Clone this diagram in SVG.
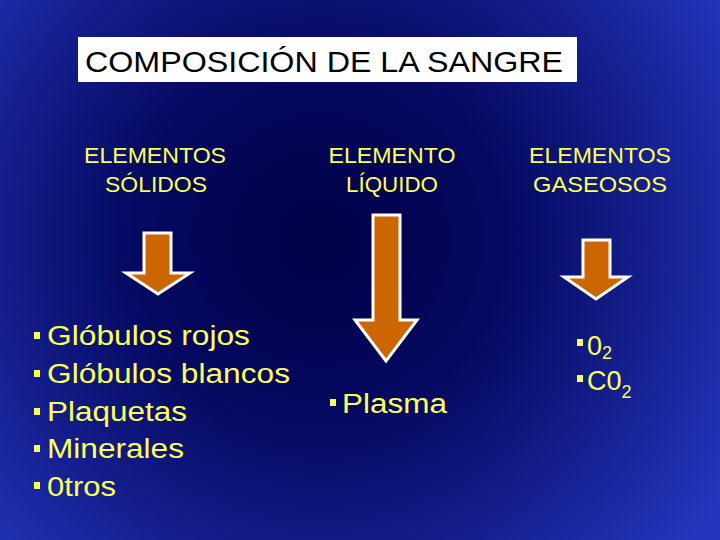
<svg xmlns="http://www.w3.org/2000/svg" width="720" height="540" viewBox="0 0 720 540">
<defs>
<radialGradient id="bg" gradientUnits="userSpaceOnUse" cx="320" cy="240" r="480">
<stop offset="0" stop-color="#000046"/>
<stop offset="0.4" stop-color="#050a62"/>
<stop offset="1" stop-color="#2536bd"/>
</radialGradient>
<style>
.hd{font-family:"Liberation Sans",Arial,sans-serif;font-size:22px;fill:#FFFF5A;text-anchor:middle}
.li{font-family:"Liberation Sans",Arial,sans-serif;font-size:27px;fill:#FFFF5A}
.bul{fill:#FFFF5A}
.arr{fill:#CC6600;stroke:#FFFFFF;stroke-width:3;stroke-linejoin:miter}
</style>
</defs>
<rect x="0" y="0" width="720" height="540" fill="url(#bg)"/>
<g id="title">
<rect x="78" y="37" width="499" height="45" fill="#FFFFFF"/>
<text x="85" y="72" font-family="'Liberation Sans',Arial,sans-serif" font-size="30" fill="#000000" textLength="478" lengthAdjust="spacingAndGlyphs">COMPOSICIÓN DE LA SANGRE</text>
</g>
<g id="solidos">
<text class="hd" x="155" y="163" textLength="142" lengthAdjust="spacingAndGlyphs">ELEMENTOS</text>
<text class="hd" x="156" y="192" textLength="102" lengthAdjust="spacingAndGlyphs">SÓLIDOS</text>
</g>
<g id="liquido">
<text class="hd" x="392" y="163" textLength="127" lengthAdjust="spacingAndGlyphs">ELEMENTO</text>
<text class="hd" x="392" y="192" textLength="92" lengthAdjust="spacingAndGlyphs">LÍQUIDO</text>
</g>
<g id="gaseosos">
<text class="hd" x="600" y="163" textLength="142" lengthAdjust="spacingAndGlyphs">ELEMENTOS</text>
<text class="hd" x="600" y="192" textLength="134" lengthAdjust="spacingAndGlyphs">GASEOSOS</text>
</g>
<g id="connectors">
<polygon class="arr" points="144,233 171,233 171,273 190,273 158,294 126,273 144,273"/>
<polygon class="arr" points="373,215 400,215 400,320 417,320 386,361 355,320 373,320"/>
<polygon class="arr" points="583,240 610,240 610,277 628,277 596,299 564,277 583,277"/>
</g>
<g id="lista-solidos">
<rect class="bul" x="34" y="332" width="6" height="7"/>
<text class="li" x="47" y="345" textLength="203" lengthAdjust="spacingAndGlyphs">Glóbulos rojos</text>
<rect class="bul" x="34" y="370" width="6" height="7"/>
<text class="li" x="47" y="383" textLength="243" lengthAdjust="spacingAndGlyphs">Glóbulos blancos</text>
<rect class="bul" x="34" y="408" width="6" height="7"/>
<text class="li" x="47" y="421" textLength="140" lengthAdjust="spacingAndGlyphs">Plaquetas</text>
<rect class="bul" x="34" y="445" width="6" height="7"/>
<text class="li" x="47" y="458" textLength="137" lengthAdjust="spacingAndGlyphs">Minerales</text>
<rect class="bul" x="34" y="482" width="6" height="7"/>
<text class="li" x="47" y="496" textLength="69" lengthAdjust="spacingAndGlyphs">0tros</text>
</g>
<g id="lista-liquido">
<rect class="bul" x="330" y="399" width="6" height="7"/>
<text class="li" x="342" y="413" textLength="105" lengthAdjust="spacingAndGlyphs">Plasma</text>
</g>
<g id="lista-gaseosos">
<rect class="bul" x="577" y="339" width="6" height="7"/>
<text class="li" x="587" y="355">0<tspan font-size="18" dy="4">2</tspan></text>
<rect class="bul" x="577" y="375" width="6" height="7"/>
<text class="li" x="587" y="390">C0<tspan font-size="18" dy="8">2</tspan></text>
</g>
</svg>
